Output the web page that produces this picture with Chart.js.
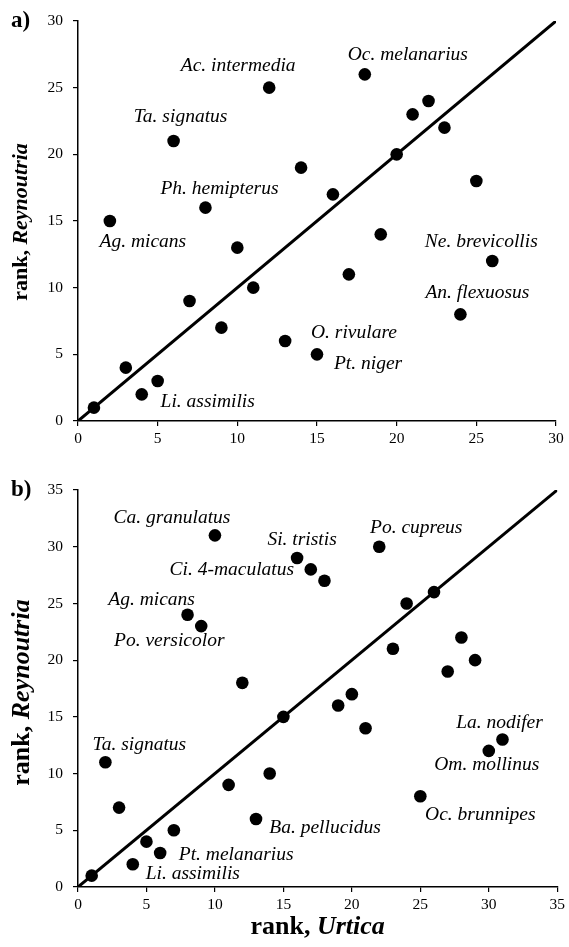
<!DOCTYPE html>
<html>
<head>
<meta charset="utf-8">
<script src="https://cdn.jsdelivr.net/npm/chart.js@4/dist/chart.umd.min.js"></script>
<style>
  body { margin: 0; background: #fff; width: 569px; height: 947px; overflow: hidden; }
  canvas { display: block; }
</style>
</head>
<body>
<canvas id="chartA" width="569" height="465"></canvas>
<canvas id="chartB" width="569" height="482"></canvas>
<script>
// панель a) – ранги видов
const urticaA = [1, 2, 3, 4, 5, 6, 7, 8, 9, 10, 11, 12, 13, 14, 15, 16, 17, 18, 19, 20, 21, 22, 23, 24, 25, 26];
const reynoutriaA = [1, 15, 4, 2, 3, 21, 9, 16, 7, 13, 10, 25, 6, 19, 5, 17, 11, 26, 14, 20, 23, 24, 22, 8, 18, 12];
// подписи видов: ранг по Urtica -> название
const namesA = [
  [12, 'Ac. intermedia'], [18, 'Oc. melanarius'], [6, 'Ta. signatus'], [8, 'Ph. hemipterus'],
  [2, 'Ag. micans'], [26, 'Ne. brevicollis'], [24, 'An. flexuosus'], [15, 'O. rivulare'],
  [15, 'Pt. niger'], [4, 'Li. assimilis']
];

// панель b)
const urticaB = [1, 2, 3, 4, 5, 6, 7, 8, 9, 10, 11, 12, 13, 14, 15, 16, 17, 18, 19, 20, 21, 22, 23, 24, 25, 26, 27, 28, 29, 30, 31];
const reynoutriaB = [1, 11, 7, 2, 4, 3, 5, 24, 23, 31, 9, 18, 6, 10, 15, 29, 28, 27, 16, 17, 14, 30, 21, 25, 8, 26, 19, 22, 20, 12, 13];
const namesB = [
  [10, 'Ca. granulatus'], [16, 'Si. tristis'], [22, 'Po. cupreus'], [17, 'Ci. 4-maculatus'],
  [8, 'Ag. micans'], [9, 'Po. versicolor'], [2, 'Ta. signatus'], [31, 'La. nodifer'],
  [30, 'Om. mollinus'], [25, 'Oc. brunnipes'], [13, 'Ba. pellucidus'], [6, 'Pt. melanarius'],
  [4, 'Li. assimilis']
];

const axisMaxA = 30;
const axisMaxB = 35;

// смещения подписей относительно точки, px
const offsetsA = {
  'Ac. intermedia': [-31, -22], 'Oc. melanarius': [43, -19], 'Ta. signatus': [7, -24],
  'Ph. hemipterus': [14, -19], 'Ag. micans': [33, 21], 'Ne. brevicollis': [-11, -19],
  'An. flexuosus': [17, -21], 'O. rivulare': [37, -21], 'Pt. niger': [51, 10],
  'Li. assimilis': [66, 8]
};
const offsetsB = {
  'Ca. granulatus': [-43, -17], 'Si. tristis': [5, -18], 'Po. cupreus': [37, -19],
  'Ci. 4-maculatus': [-79, 0], 'Ag. micans': [-36, -15], 'Po. versicolor': [-32, 15],
  'Ta. signatus': [34, -17], 'La. nodifer': [-3, -17], 'Om. mollinus': [-2, 14],
  'Oc. brunnipes': [60, 19], 'Ba. pellucidus': [69, 9], 'Pt. melanarius': [76, 2],
  'Li. assimilis': [60, 10]
};

const SERIF = '"Liberation Serif", "Times New Roman", serif';

// подписи видов, буква панели и подписи осей
const annotPlugin = {
  id: 'annot',
  afterDraw(chart, args, o) {
    const ctx = chart.ctx;
    const xs = chart.scales.x, ys = chart.scales.y;
    ctx.save();
    ctx.fillStyle = '#000';
    ctx.textBaseline = 'middle';

    ctx.font = 'italic 19.5px ' + SERIF;
    ctx.textAlign = 'center';
    o.names.forEach(([u, name]) => {
      const i = o.xs.indexOf(u);
      const px = xs.getPixelForValue(u);
      const py = ys.getPixelForValue(o.ys[i]);
      const d = o.offsets[name];
      ctx.fillText(name, px + d[0], py + d[1]);
    });

    // буква панели
    ctx.textAlign = 'left';
    ctx.font = 'bold 23px ' + SERIF;
    ctx.fillText(o.letter, 11, o.letterY);

    // подпись оси Y (повернутая)
    const yf = o.yTitleSize;
    ctx.font = 'bold ' + yf + 'px ' + SERIF;
    const w1 = ctx.measureText('rank, ').width;
    ctx.font = 'bold italic ' + yf + 'px ' + SERIF;
    const w2 = ctx.measureText('Reynoutria').width;
    ctx.translate(o.yTitleX, (chart.chartArea.top + chart.chartArea.bottom) / 2 + o.yTitleDy);
    ctx.rotate(-Math.PI / 2);
    let sx = -(w1 + w2) / 2;
    ctx.font = 'bold ' + yf + 'px ' + SERIF;
    ctx.fillText('rank, ', sx, 0);
    ctx.font = 'bold italic ' + yf + 'px ' + SERIF;
    ctx.fillText('Reynoutria', sx + w1, 0);
    ctx.setTransform(1, 0, 0, 1, 0, 0);

    // подпись оси X
    if (o.xTitle) {
      const xf = o.xTitleSize;
      ctx.font = 'bold ' + xf + 'px ' + SERIF;
      const a1 = ctx.measureText('rank, ').width;
      ctx.font = 'bold italic ' + xf + 'px ' + SERIF;
      const a2 = ctx.measureText('Urtica').width;
      const cx = (chart.chartArea.left + chart.chartArea.right) / 2;
      const ty = chart.chartArea.bottom + o.xTitleDy;
      ctx.font = 'bold ' + xf + 'px ' + SERIF;
      ctx.fillText('rank, ', cx - (a1 + a2) / 2, ty);
      ctx.font = 'bold italic ' + xf + 'px ' + SERIF;
      ctx.fillText('Urtica', cx - (a1 + a2) / 2 + a1, ty);
    }
    ctx.restore();
  }
};

function makeScale(max, pad, fitFn) {
  return {
    type: 'linear',
    min: 0,
    max: max,
    ticks: { stepSize: 5, color: '#000', font: { family: SERIF, size: 15.5 }, padding: pad },
    grid: { drawOnChartArea: false, drawTicks: true, tickLength: 5, color: '#000', lineWidth: 1.2 },
    border: { color: '#000', width: 1.5 },
    afterFit: fitFn
  };
}

function makeChart(id, xs, ys, max, names, offsets, extra) {
  const points = xs.map((u, i) => ({ x: u, y: ys[i] }));
  return new Chart(document.getElementById(id), {
    type: 'scatter',
    data: {
      datasets: [{
        type: 'line',
        data: [{ x: 0, y: 0 }, { x: max, y: max }], // линия равенства рангов
        borderColor: '#000',
        borderWidth: 3,
        pointRadius: 0,
        fill: false
      }, {
        data: points,
        backgroundColor: '#000',
        borderWidth: 0,
        pointRadius: 6.3
      }]
    },
    options: {
      responsive: false,
      animation: false,
      layout: { padding: extra.padding },
      plugins: {
        legend: { display: false },
        tooltip: { enabled: false },
        annot: Object.assign({ names: names, offsets: offsets, xs: xs, ys: ys }, extra.annot)
      },
      scales: {
        x: makeScale(max, 4, s => { s.height = extra.xHeight; }),
        y: makeScale(max, 10, s => { s.width = 78; })
      }
    },
    plugins: [annotPlugin]
  });
}

makeChart('chartA', urticaA, reynoutriaA, axisMaxA, namesA, offsetsA, {
  padding: { left: 0, right: 13, top: 21, bottom: 0 },
  xHeight: 44,
  annot: { letter: 'a)', letterY: 21, yTitleX: 21, yTitleDy: 1, yTitleSize: 22 }
});

makeChart('chartB', urticaB, reynoutriaB, axisMaxB, namesB, offsetsB, {
  padding: { left: 0, right: 10, top: 25, bottom: 0 },
  xHeight: 60,
  annot: { letter: 'b)', letterY: 25, yTitleX: 22, yTitleDy: 4, yTitleSize: 26, xTitle: true, xTitleSize: 26, xTitleDy: 40 }
});
</script>
</body>
</html>
